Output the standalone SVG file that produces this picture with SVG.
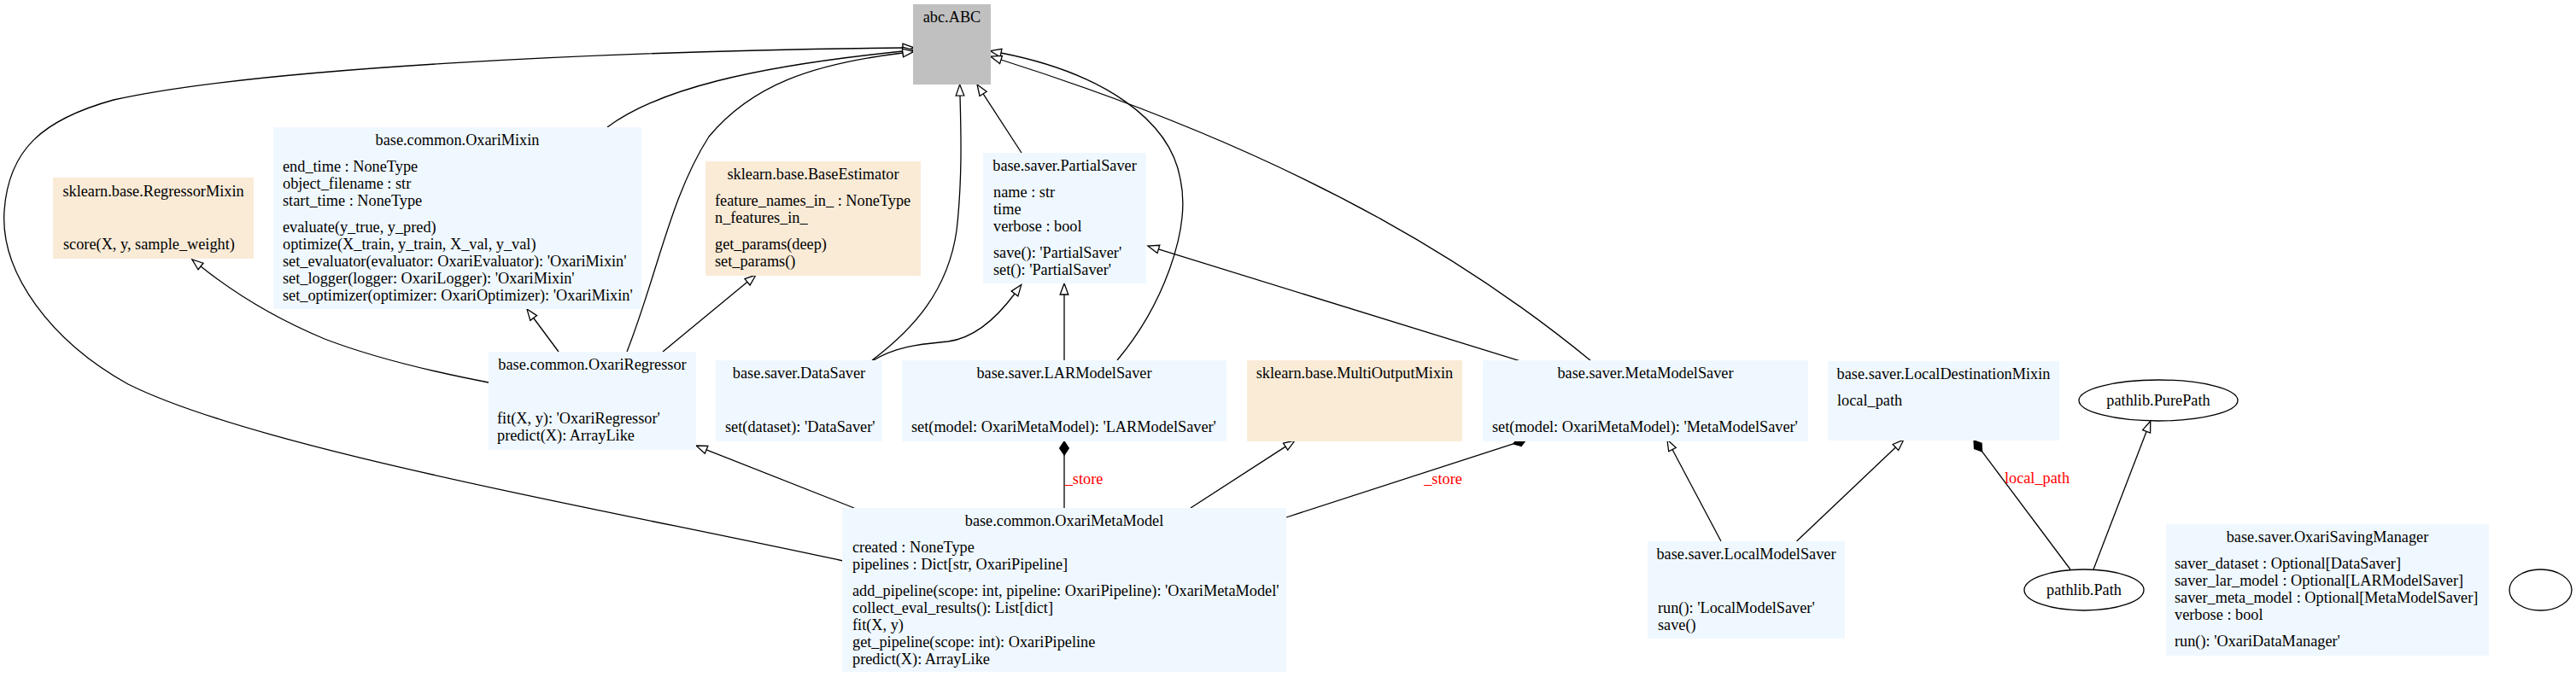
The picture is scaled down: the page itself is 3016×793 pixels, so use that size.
<svg xmlns="http://www.w3.org/2000/svg" width="3016" height="793" viewBox="0 0 3016 793">
<style>
text { font-family: "Liberation Serif", "Times New Roman", serif; font-size: 18.3px; fill: #000; }
.c { text-anchor: middle; }
.lbl { fill: #ff0000; text-anchor: middle; }
.blue { fill: #f0f8ff; }
.beige { fill: #faebd7; }
.grey { fill: #c0c0c0; }
.edge { fill: none; stroke: #000; stroke-width: 1.3; }
.inh { marker-end: url(#tri); }
.comp { marker-end: url(#dia); }
.ell { fill: none; stroke: #000; stroke-width: 1.3; }
</style>
<defs>
<marker id="tri" markerUnits="userSpaceOnUse" markerWidth="20" markerHeight="16" viewBox="-2 -8 20 16" refX="0" refY="0" orient="auto" overflow="visible">
<path d="M0,-4.8 L13,0 L0,4.8 Z" fill="#fff" stroke="#000" stroke-width="1.3"/>
</marker>
<marker id="dia" markerUnits="userSpaceOnUse" markerWidth="20" markerHeight="16" viewBox="-2 -8 20 16" refX="0" refY="0" orient="auto" overflow="visible">
<path d="M0,0 L8,-5.3 L16,0 L8,5.3 Z" fill="#000" stroke="#000" stroke-width="1.3"/>
</marker>
</defs>
<rect x="0" y="0" width="3016" height="793" fill="#fff"/>

<g id="connectors">
<path class="edge inh" d="M987,657 C700,595 300,525 150,450 C60,400 0,320 5,247 C10,175 50,140 133,117 C300,80 700,60 1057,56"/>
<path class="edge inh" d="M711,149 C770,105 880,78 1057,60"/>
<path class="edge inh" d="M734,412 C770,320 785,230 830,160 C880,100 950,75 1057,62"/>
<path class="edge inh" d="M654,412 L624.7,372.5"/>
<path class="edge inh" d="M776,412 L875,330.3"/>
<path class="edge inh" d="M572,448 C520,438 440,420 380,397 C320,372 270,340 235,312"/>
<path class="edge inh" d="M1021,422 C1070,385 1110,340 1120,270 C1127,210 1125,150 1124,112"/>
<path class="edge inh" d="M1021,423 C1050,405 1080,403 1110,400 C1140,396 1165,375 1188,344"/>
<path class="edge inh" d="M1246,422 L1246,345"/>
<path class="edge inh" d="M1308,422 C1360,360 1395,270 1382,210 C1370,140 1290,85 1172,62"/>
<path class="edge inh" d="M1863,423 C1750,330 1550,190 1172,70"/>
<path class="edge inh" d="M1780,423 L1356.4,291.9"/>
<path class="edge inh" d="M1196,179 L1151.1,109.9"/>
<path class="edge inh" d="M1000,595 L827.1,526.8"/>
<path class="edge inh" d="M1394,595 L1505.1,523.1"/>
<path class="edge comp" d="M1246,595 L1246,533"/>
<text class="lbl" x="1269" y="567">_store</text>
<path class="edge comp" d="M1506,606 L1771.8,519.9"/>
<text class="lbl" x="1689.5" y="567">_store</text>
<path class="edge inh" d="M2015,634 L1958,526.5"/>
<path class="edge inh" d="M2103.5,634 L2219.4,524"/>
<path class="edge comp" d="M2424,667 L2320.6,528.8"/>
<text class="lbl" x="2385" y="566">local_path</text>
<path class="edge inh" d="M2451,667 L2513.1,505.4"/>
</g>

<g id="abc.ABC">
<rect class="grey" x="1069" y="5" width="91" height="94"/>
<text class="c" x="1114.5" y="26">abc.ABC</text>
</g>

<g id="base.common.OxariMixin">
<rect class="blue" x="320" y="149" width="431" height="213"/>
<text class="c" x="535.5" y="170">base.common.OxariMixin</text>
<text x="331" y="201">end_time : NoneType</text>
<text x="331" y="221">object_filename : str</text>
<text x="331" y="241">start_time : NoneType</text>
<text x="331" y="272">evaluate(y_true, y_pred)</text>
<text x="331" y="292">optimize(X_train, y_train, X_val, y_val)</text>
<text x="331" y="312">set_evaluator(evaluator: OxariEvaluator): 'OxariMixin'</text>
<text x="331" y="332">set_logger(logger: OxariLogger): 'OxariMixin'</text>
<text x="331" y="352">set_optimizer(optimizer: OxariOptimizer): 'OxariMixin'</text>
</g>

<g id="sklearn.base.RegressorMixin">
<rect class="beige" x="62" y="208" width="235" height="95"/>
<text class="c" x="179.5" y="230">sklearn.base.RegressorMixin</text>
<text x="74" y="292">score(X, y, sample_weight)</text>
</g>

<g id="sklearn.base.BaseEstimator">
<rect class="beige" x="826" y="189" width="252" height="134"/>
<text class="c" x="952" y="210">sklearn.base.BaseEstimator</text>
<text x="837" y="241">feature_names_in_ : NoneType</text>
<text x="837" y="261">n_features_in_</text>
<text x="837" y="292">get_params(deep)</text>
<text x="837" y="312">set_params()</text>
</g>

<g id="base.saver.PartialSaver">
<rect class="blue" x="1151" y="179" width="191" height="153"/>
<text class="c" x="1246.5" y="200">base.saver.PartialSaver</text>
<text x="1163" y="231">name : str</text>
<text x="1163" y="251">time</text>
<text x="1163" y="271">verbose : bool</text>
<text x="1163" y="302">save(): 'PartialSaver'</text>
<text x="1163" y="322">set(): 'PartialSaver'</text>
</g>

<g id="base.common.OxariRegressor">
<rect class="blue" x="572" y="412" width="243" height="115"/>
<text class="c" x="693.5" y="433">base.common.OxariRegressor</text>
<text x="582" y="496">fit(X, y): 'OxariRegressor'</text>
<text x="582" y="516">predict(X): ArrayLike</text>
</g>

<g id="base.saver.DataSaver">
<rect class="blue" x="838" y="422" width="195" height="95"/>
<text class="c" x="935.5" y="443">base.saver.DataSaver</text>
<text x="849" y="506">set(dataset): 'DataSaver'</text>
</g>

<g id="base.saver.LARModelSaver">
<rect class="blue" x="1056" y="422" width="380" height="95"/>
<text class="c" x="1246" y="443">base.saver.LARModelSaver</text>
<text x="1067" y="506">set(model: OxariMetaModel): 'LARModelSaver'</text>
</g>

<g id="sklearn.base.MultiOutputMixin">
<rect class="beige" x="1460" y="422" width="252" height="95"/>
<text class="c" x="1586" y="443">sklearn.base.MultiOutputMixin</text>
</g>

<g id="base.saver.MetaModelSaver">
<rect class="blue" x="1736" y="422" width="381" height="95"/>
<text class="c" x="1926.5" y="443">base.saver.MetaModelSaver</text>
<text x="1747" y="506">set(model: OxariMetaModel): 'MetaModelSaver'</text>
</g>

<g id="base.saver.LocalDestinationMixin">
<rect class="blue" x="2140" y="423" width="271" height="93"/>
<text class="c" x="2275.5" y="444">base.saver.LocalDestinationMixin</text>
<text x="2151" y="475">local_path</text>
</g>

<g id="pathlib.PurePath">
<ellipse class="ell" cx="2527" cy="469" rx="93" ry="24"/>
<text class="c" x="2527" y="475">pathlib.PurePath</text>
</g>

<g id="base.common.OxariMetaModel">
<rect class="blue" x="986" y="595" width="520" height="192"/>
<text class="c" x="1246" y="616">base.common.OxariMetaModel</text>
<text x="998" y="647">created : NoneType</text>
<text x="998" y="667">pipelines : Dict[str, OxariPipeline]</text>
<text x="998" y="698">add_pipeline(scope: int, pipeline: OxariPipeline): 'OxariMetaModel'</text>
<text x="998" y="718">collect_eval_results(): List[dict]</text>
<text x="998" y="738">fit(X, y)</text>
<text x="998" y="758">get_pipeline(scope: int): OxariPipeline</text>
<text x="998" y="778">predict(X): ArrayLike</text>
</g>

<g id="base.saver.LocalModelSaver">
<rect class="blue" x="1929" y="634" width="231" height="114"/>
<text class="c" x="2044.5" y="655">base.saver.LocalModelSaver</text>
<text x="1941" y="718">run(): 'LocalModelSaver'</text>
<text x="1941" y="738">save()</text>
</g>

<g id="pathlib.Path">
<ellipse class="ell" cx="2440" cy="691" rx="70" ry="24"/>
<text class="c" x="2440" y="697">pathlib.Path</text>
</g>

<g id="base.saver.OxariSavingManager">
<rect class="blue" x="2536" y="614" width="378" height="154"/>
<text class="c" x="2725" y="635">base.saver.OxariSavingManager</text>
<text x="2546" y="666">saver_dataset : Optional[DataSaver]</text>
<text x="2546" y="686">saver_lar_model : Optional[LARModelSaver]</text>
<text x="2546" y="706">saver_meta_model : Optional[MetaModelSaver]</text>
<text x="2546" y="726">verbose : bool</text>
<text x="2546" y="757">run(): 'OxariDataManager'</text>
</g>

<g id="empty">
<ellipse class="ell" cx="2974.5" cy="691" rx="36.5" ry="24"/>
</g>
</svg>
